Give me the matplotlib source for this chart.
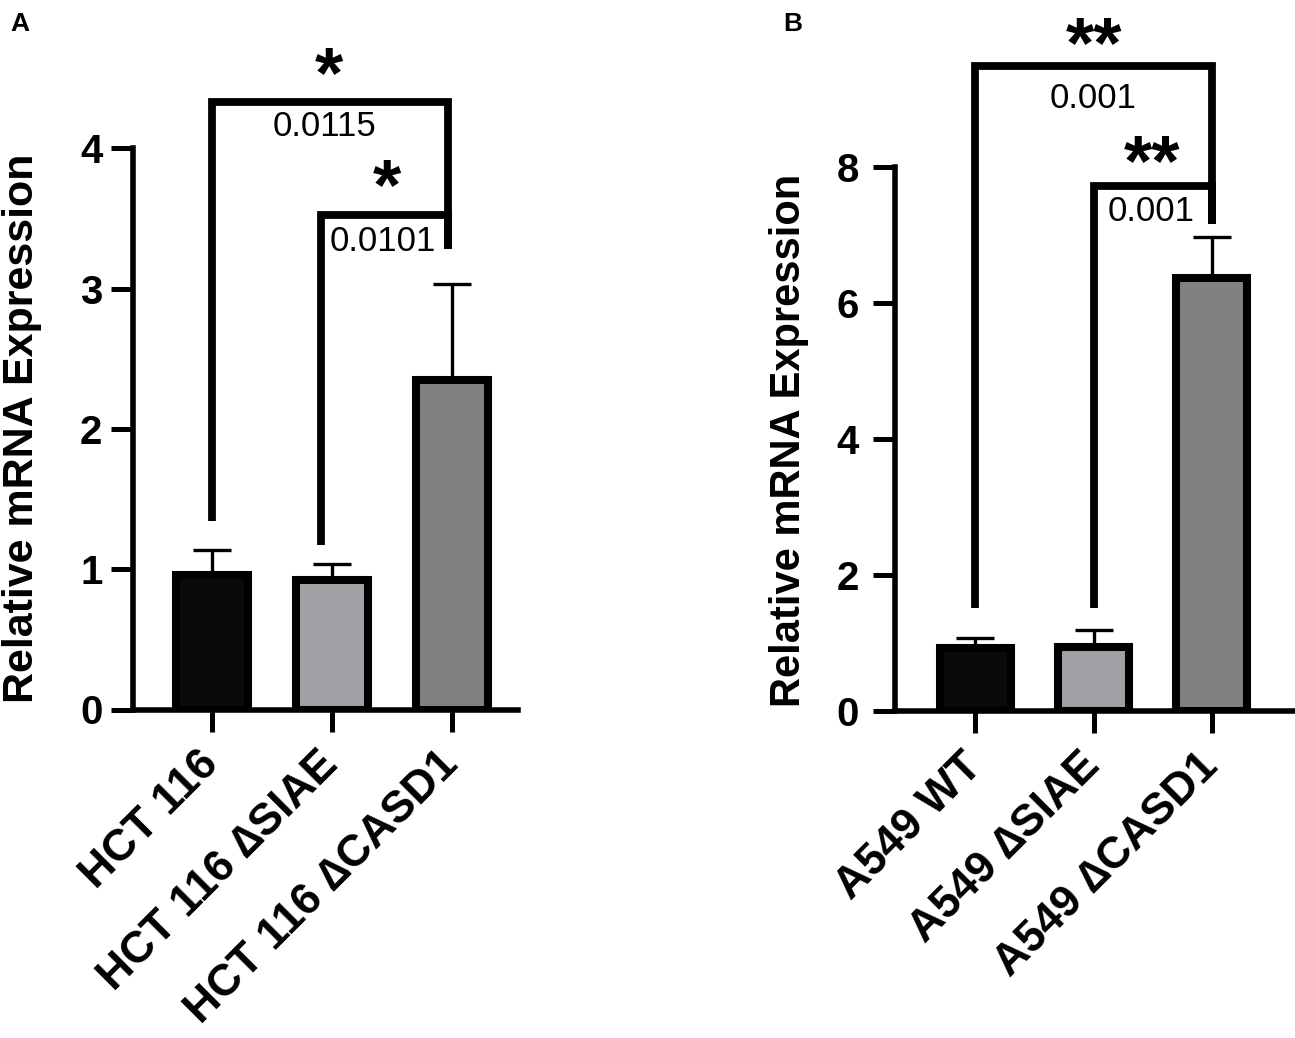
import matplotlib
matplotlib.use('Agg')
import matplotlib.pyplot as plt
import numpy as np

plt.rcParams['font.family'] = ['Liberation Sans', 'DejaVu Sans']

# ---------------- data ----------------
a_labels = ['HCT 116', 'HCT 116 \u2206SIAE', 'HCT 116 \u2206CASD1']
a_means = [0.96, 0.92, 2.35]
a_err = [0.18, 0.12, 0.68]
a_yticks = [0, 1, 2, 3, 4]
a_pvals = ['0.0115', '0.0101']
a_stars = ['*', '*']

b_labels = ['A549 WT', 'A549 \u2206SIAE', 'A549 \u2206CASD1']
b_means = [0.92, 0.945, 6.37]
b_err = [0.16, 0.24, 0.60]
b_yticks = [0, 2, 4, 6, 8]
b_pvals = ['0.001', '0.001']
b_stars = ['**', '**']

bar_colors = ['#0a0a0a', '#a1a0a5', '#818181']

W, H = 1295, 1038
fig = plt.figure(figsize=(W / 100, H / 100), dpi=100)


def px_axes(left, right, bottom, top):
    return fig.add_axes([left / W, 1 - bottom / H, (right - left) / W, (bottom - top) / H])


def style_axes(ax, yticks, labels, ypad):
    for s in ['top', 'right']:
        ax.spines[s].set_visible(False)
    for s in ['left', 'bottom']:
        ax.spines[s].set_linewidth(4)
    ax.spines['left'].set_bounds(yticks[0], yticks[-1])
    ax.set_ylim(yticks[0], yticks[-1])
    ax.set_yticks(yticks)
    ax.set_yticklabels([str(t) for t in yticks], fontsize=29, fontweight='bold')
    ax.tick_params(axis='y', length=16, width=3.6, pad=ypad)
    ax.tick_params(axis='x', length=16, width=3.6, pad=19)
    ax.set_xticks(range(len(labels)))
    ax.set_xticklabels(labels, rotation=45, ha='right', va='center', rotation_mode='anchor',
                       fontsize=32, fontweight='bold')


def draw_bars(ax, means, errs):
    x = np.arange(len(means))
    ax.bar(x, means, width=0.6, color=bar_colors, edgecolor='black', linewidth=5.8, zorder=3)
    ax.errorbar(x, means, yerr=[np.zeros(len(errs)), errs], fmt='none', ecolor='black',
                elinewidth=2.4, capsize=14, capthick=2.4, zorder=2)


def bracket(ax, xl, xr, ytop, ylb, yrb):
    ax.plot([xl, xl, xr, xr], [ylb, ytop, ytop, yrb], color='black', lw=5.6,
            clip_on=False, solid_joinstyle='miter', solid_capstyle='butt', zorder=4)


def label(ax, x, y, s, size, weight, dy):
    ax.annotate(s, xy=(x, y), xytext=(0, dy), textcoords='offset pixels',
                ha='center', va='baseline', fontsize=size, fontweight=weight,
                annotation_clip=False)


STAR = 52
STAR_DY = -33
P = 25
P_DY = -12

# ---------------- Panel A ----------------
axA = px_axes(133, 518, 709.5, 148.3)
draw_bars(axA, a_means, a_err)
style_axes(axA, a_yticks, a_labels, 6)
axA.set_xlim(-0.658, 2.55)
bracket(axA, 0.0, 1.967, 4.33, 1.34, 3.28)
bracket(axA, 0.908, 1.967, 3.525, 1.17, 3.28)
label(axA, 0.975, 4.60, a_stars[0], STAR, 'bold', STAR_DY)
label(axA, 1.456, 3.80, a_stars[1], STAR, 'bold', STAR_DY)
label(axA, 0.94, 4.17, a_pvals[0], P, 'normal', P_DY)
label(axA, 1.425, 3.35, a_pvals[1], P, 'normal', P_DY)

# ---------------- Panel B ----------------
axB = px_axes(895, 1293, 711, 167)
draw_bars(axB, b_means, b_err)
style_axes(axB, b_yticks, b_labels, 10)
axB.set_xlim(-0.682, 2.69)
bracket(axB, 0.0, 2.0, 9.49, 1.51, 7.16)
bracket(axB, 1.0, 2.0, 7.72, 1.51, 7.16)
label(axB, 1.0, 9.96, b_stars[0], STAR, 'bold', STAR_DY)
label(axB, 1.493, 8.22, b_stars[1], STAR, 'bold', STAR_DY)
label(axB, 1.0, 9.04, b_pvals[0], P, 'normal', P_DY)
label(axB, 1.49, 7.38, b_pvals[1], P, 'normal', P_DY)

# ---------------- axis titles & panel letters ----------------
fig.text(22 / W, 1 - 428 / H, 'Relative mRNA Expression', rotation=90, ha='center',
         va='center', fontsize=31, fontweight='bold')
fig.text(789 / W, 1 - 440 / H, 'Relative mRNA Expression', rotation=90, ha='center',
         va='center', fontsize=30, fontweight='bold')
fig.text(10 / W, 1 - 12 / H, 'A', ha='left', va='top', fontsize=19, fontweight='bold')
fig.text(783 / W, 1 - 12 / H, 'B', ha='left', va='top', fontsize=19, fontweight='bold')

fig.savefig('out.png', dpi=100)
